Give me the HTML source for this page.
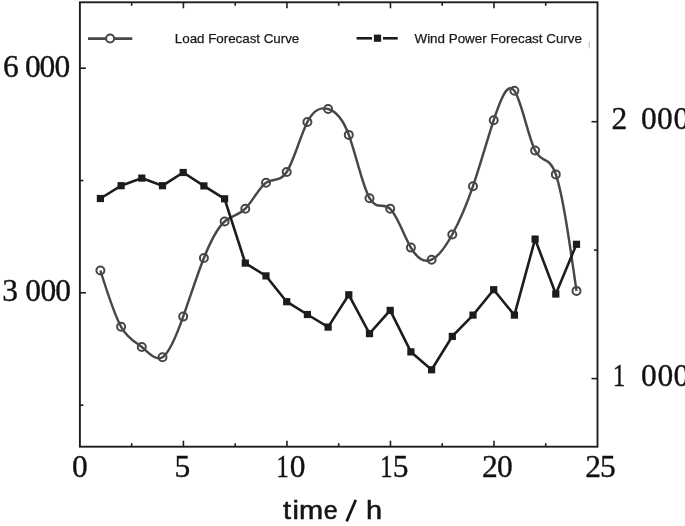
<!DOCTYPE html>
<html><head><meta charset="utf-8">
<style>
html,body{margin:0;padding:0;background:#fff;}
body{width:685px;height:526px;position:relative;overflow:hidden;}
svg{position:absolute;left:0;top:0;will-change:transform;filter:blur(0.35px);}
.s{font-family:"Liberation Serif",serif;fill:#111;stroke:#111;stroke-width:0.35px;}
.n{font-family:"Liberation Sans",sans-serif;fill:#1a1a1a;}
.lg{stroke:#1a1a1a;stroke-width:0.25px;}
</style></head><body>
<svg width="685" height="526" viewBox="0 0 685 526">
<rect x="79.9" y="2.3" width="517.6" height="444.4" fill="none" stroke="#1e1e1e" stroke-width="1.9"/>
<line x1="131.66" y1="446.7" x2="131.66" y2="443.2" stroke="#1e1e1e" stroke-width="1.6"/>
<line x1="131.66" y1="2.3" x2="131.66" y2="5.8" stroke="#1e1e1e" stroke-width="1.6"/>
<line x1="183.42" y1="446.7" x2="183.42" y2="440.7" stroke="#1e1e1e" stroke-width="1.6"/>
<line x1="183.42" y1="2.3" x2="183.42" y2="8.3" stroke="#1e1e1e" stroke-width="1.6"/>
<line x1="235.18" y1="446.7" x2="235.18" y2="443.2" stroke="#1e1e1e" stroke-width="1.6"/>
<line x1="235.18" y1="2.3" x2="235.18" y2="5.8" stroke="#1e1e1e" stroke-width="1.6"/>
<line x1="286.94" y1="446.7" x2="286.94" y2="440.7" stroke="#1e1e1e" stroke-width="1.6"/>
<line x1="286.94" y1="2.3" x2="286.94" y2="8.3" stroke="#1e1e1e" stroke-width="1.6"/>
<line x1="338.70" y1="446.7" x2="338.70" y2="443.2" stroke="#1e1e1e" stroke-width="1.6"/>
<line x1="338.70" y1="2.3" x2="338.70" y2="5.8" stroke="#1e1e1e" stroke-width="1.6"/>
<line x1="390.46" y1="446.7" x2="390.46" y2="440.7" stroke="#1e1e1e" stroke-width="1.6"/>
<line x1="390.46" y1="2.3" x2="390.46" y2="8.3" stroke="#1e1e1e" stroke-width="1.6"/>
<line x1="442.22" y1="446.7" x2="442.22" y2="443.2" stroke="#1e1e1e" stroke-width="1.6"/>
<line x1="442.22" y1="2.3" x2="442.22" y2="5.8" stroke="#1e1e1e" stroke-width="1.6"/>
<line x1="493.98" y1="446.7" x2="493.98" y2="440.7" stroke="#1e1e1e" stroke-width="1.6"/>
<line x1="493.98" y1="2.3" x2="493.98" y2="8.3" stroke="#1e1e1e" stroke-width="1.6"/>
<line x1="545.74" y1="446.7" x2="545.74" y2="443.2" stroke="#1e1e1e" stroke-width="1.6"/>
<line x1="545.74" y1="2.3" x2="545.74" y2="5.8" stroke="#1e1e1e" stroke-width="1.6"/>
<line x1="79.9" y1="68.2" x2="85.9" y2="68.2" stroke="#1e1e1e" stroke-width="1.6"/>
<line x1="79.9" y1="180.5" x2="83.4" y2="180.5" stroke="#1e1e1e" stroke-width="1.6"/>
<line x1="79.9" y1="292.8" x2="85.9" y2="292.8" stroke="#1e1e1e" stroke-width="1.6"/>
<line x1="79.9" y1="405.2" x2="83.4" y2="405.2" stroke="#1e1e1e" stroke-width="1.6"/>
<line x1="597.5" y1="121.7" x2="591.5" y2="121.7" stroke="#1e1e1e" stroke-width="1.6"/>
<line x1="597.5" y1="250.1" x2="594.0" y2="250.1" stroke="#1e1e1e" stroke-width="1.6"/>
<line x1="597.5" y1="378.6" x2="591.5" y2="378.6" stroke="#1e1e1e" stroke-width="1.6"/>
<path d="M100.40 270.50 C107.30 292.54 114.20 314.58 121.10 326.80 C128.00 339.02 134.90 341.42 141.80 347.00 C148.70 352.58 155.60 361.34 162.50 357.20 C169.40 353.06 176.30 336.03 183.20 316.60 C190.10 297.17 197.00 275.35 203.90 258.00 C210.80 240.65 217.70 227.76 224.60 221.50 C231.50 215.24 238.40 215.61 245.30 208.70 C252.20 201.79 259.10 187.60 266.00 182.80 C272.90 178.00 279.80 182.61 286.70 172.00 C293.60 161.39 300.50 135.58 307.40 122.00 C314.30 108.42 321.20 107.07 328.10 109.00 C335.00 110.93 341.90 116.13 348.80 134.90 C355.70 153.67 362.60 186.00 369.50 198.20 C376.40 210.40 383.30 202.48 390.20 208.80 C397.10 215.12 404.00 235.68 410.90 247.60 C417.80 259.52 424.70 262.82 431.60 259.70 C438.50 256.58 445.40 247.06 452.30 234.50 C459.20 221.94 466.10 206.34 473.00 186.20 C479.90 166.06 486.80 141.38 493.70 120.20 C500.60 99.02 507.50 81.34 514.40 90.80 C521.30 100.26 528.20 136.86 535.10 150.50 C542.00 164.14 548.90 154.83 555.80 174.40 C562.70 193.97 569.60 242.44 576.50 290.90" fill="none" stroke="#474747" stroke-width="2.45" stroke-linejoin="round"/>
<path d="M100.40 198.50 L121.10 185.70 L141.80 178.10 L162.50 185.70 L183.20 172.50 L203.90 185.90 L224.60 198.80 L245.30 263.10 L266.00 275.90 L286.70 301.70 L307.40 314.50 L328.10 327.10 L348.80 294.80 L369.50 333.60 L390.20 310.40 L410.90 351.90 L431.60 369.80 L452.30 336.40 L473.00 315.10 L493.70 289.70 L514.40 315.10 L535.10 239.10 L555.80 294.00 L576.50 244.30" fill="none" stroke="#1c1c1c" stroke-width="2.6" stroke-linejoin="miter"/>
<circle cx="100.40" cy="270.50" r="4" fill="none" stroke="#474747" stroke-width="2"/>
<circle cx="121.10" cy="326.80" r="4" fill="none" stroke="#474747" stroke-width="2"/>
<circle cx="141.80" cy="347.00" r="4" fill="none" stroke="#474747" stroke-width="2"/>
<circle cx="162.50" cy="357.20" r="4" fill="none" stroke="#474747" stroke-width="2"/>
<circle cx="183.20" cy="316.60" r="4" fill="none" stroke="#474747" stroke-width="2"/>
<circle cx="203.90" cy="258.00" r="4" fill="none" stroke="#474747" stroke-width="2"/>
<circle cx="224.60" cy="221.50" r="4" fill="none" stroke="#474747" stroke-width="2"/>
<circle cx="245.30" cy="208.70" r="4" fill="none" stroke="#474747" stroke-width="2"/>
<circle cx="266.00" cy="182.80" r="4" fill="none" stroke="#474747" stroke-width="2"/>
<circle cx="286.70" cy="172.00" r="4" fill="none" stroke="#474747" stroke-width="2"/>
<circle cx="307.40" cy="122.00" r="4" fill="none" stroke="#474747" stroke-width="2"/>
<circle cx="328.10" cy="109.00" r="4" fill="none" stroke="#474747" stroke-width="2"/>
<circle cx="348.80" cy="134.90" r="4" fill="none" stroke="#474747" stroke-width="2"/>
<circle cx="369.50" cy="198.20" r="4" fill="none" stroke="#474747" stroke-width="2"/>
<circle cx="390.20" cy="208.80" r="4" fill="none" stroke="#474747" stroke-width="2"/>
<circle cx="410.90" cy="247.60" r="4" fill="none" stroke="#474747" stroke-width="2"/>
<circle cx="431.60" cy="259.70" r="4" fill="none" stroke="#474747" stroke-width="2"/>
<circle cx="452.30" cy="234.50" r="4" fill="none" stroke="#474747" stroke-width="2"/>
<circle cx="473.00" cy="186.20" r="4" fill="none" stroke="#474747" stroke-width="2"/>
<circle cx="493.70" cy="120.20" r="4" fill="none" stroke="#474747" stroke-width="2"/>
<circle cx="514.40" cy="90.80" r="4" fill="none" stroke="#474747" stroke-width="2"/>
<circle cx="535.10" cy="150.50" r="4" fill="none" stroke="#474747" stroke-width="2"/>
<circle cx="555.80" cy="174.40" r="4" fill="none" stroke="#474747" stroke-width="2"/>
<circle cx="576.50" cy="290.90" r="4" fill="none" stroke="#474747" stroke-width="2"/>
<rect x="96.80" y="194.90" width="7.2" height="7.2" fill="#1c1c1c"/>
<rect x="117.50" y="182.10" width="7.2" height="7.2" fill="#1c1c1c"/>
<rect x="138.20" y="174.50" width="7.2" height="7.2" fill="#1c1c1c"/>
<rect x="158.90" y="182.10" width="7.2" height="7.2" fill="#1c1c1c"/>
<rect x="179.60" y="168.90" width="7.2" height="7.2" fill="#1c1c1c"/>
<rect x="200.30" y="182.30" width="7.2" height="7.2" fill="#1c1c1c"/>
<rect x="221.00" y="195.20" width="7.2" height="7.2" fill="#1c1c1c"/>
<rect x="241.70" y="259.50" width="7.2" height="7.2" fill="#1c1c1c"/>
<rect x="262.40" y="272.30" width="7.2" height="7.2" fill="#1c1c1c"/>
<rect x="283.10" y="298.10" width="7.2" height="7.2" fill="#1c1c1c"/>
<rect x="303.80" y="310.90" width="7.2" height="7.2" fill="#1c1c1c"/>
<rect x="324.50" y="323.50" width="7.2" height="7.2" fill="#1c1c1c"/>
<rect x="345.20" y="291.20" width="7.2" height="7.2" fill="#1c1c1c"/>
<rect x="365.90" y="330.00" width="7.2" height="7.2" fill="#1c1c1c"/>
<rect x="386.60" y="306.80" width="7.2" height="7.2" fill="#1c1c1c"/>
<rect x="407.30" y="348.30" width="7.2" height="7.2" fill="#1c1c1c"/>
<rect x="428.00" y="366.20" width="7.2" height="7.2" fill="#1c1c1c"/>
<rect x="448.70" y="332.80" width="7.2" height="7.2" fill="#1c1c1c"/>
<rect x="469.40" y="311.50" width="7.2" height="7.2" fill="#1c1c1c"/>
<rect x="490.10" y="286.10" width="7.2" height="7.2" fill="#1c1c1c"/>
<rect x="510.80" y="311.50" width="7.2" height="7.2" fill="#1c1c1c"/>
<rect x="531.50" y="235.50" width="7.2" height="7.2" fill="#1c1c1c"/>
<rect x="552.20" y="290.40" width="7.2" height="7.2" fill="#1c1c1c"/>
<rect x="572.90" y="240.70" width="7.2" height="7.2" fill="#1c1c1c"/>
<line x1="88" y1="38.6" x2="132.3" y2="38.6" stroke="#474747" stroke-width="2.6"/>
<circle cx="110.1" cy="38.5" r="4" fill="#fff" stroke="#474747" stroke-width="2"/>
<line x1="356.6" y1="38.3" x2="372" y2="38.3" stroke="#1c1c1c" stroke-width="2.6"/>
<line x1="383" y1="38.3" x2="397.7" y2="38.3" stroke="#1c1c1c" stroke-width="2.6"/>
<rect x="373.9" y="34.6" width="7.2" height="7.2" fill="#1c1c1c"/>
<g class="s" font-size="31.5">
<text x="3.1 25.1 39.6 54.4" y="77">6000</text>
<text x="2.3 25.2 40.6 55.3" y="301.4">3000</text>
<text x="611.5 640.9 657.1 673.4" y="129">2000</text>
<text transform="translate(619,385.8) scale(0.8,1)" text-anchor="middle">1</text>
<text x="640.9 657.6 673.4" y="385.8">000</text>
<text x="71.9" y="476.8">0</text>
<text x="174.6" y="476.8">5</text>
<text transform="translate(282.6,476.8) scale(0.8,1)" text-anchor="middle">1</text>
<text x="289.8" y="476.8">0</text>
<text transform="translate(386.2,476.8) scale(0.8,1)" text-anchor="middle">1</text>
<text x="392.8" y="476.8">5</text>
<text x="482 497.1" y="476.8">20</text>
<text x="585.3 600.1" y="476.8">25</text>
</g>
<g class="n">
<text x="174.8" y="42.7" class="lg" font-size="13.4" textLength="124.5" lengthAdjust="spacing">Load Forecast Curve</text>
<text x="414.5" y="42.7" class="lg" font-size="13.4">Wind Power Forecast Curve</text>
<g transform="translate(0,518.8) scale(1,0.88)">
<text x="283.1 292.5 299.1" y="0" font-size="29" style="fill:#151515;stroke:#151515;stroke-width:0.6px">tim</text>
<text transform="translate(324.6,0) scale(0.86,1)" x="-1" y="0" font-size="29" style="fill:#151515;stroke:#151515;stroke-width:0.6px">e</text>
<text x="365.9" y="0" font-size="29" style="fill:#151515;stroke:#151515;stroke-width:0.6px">h</text>
</g>
<line x1="589.4" y1="41.5" x2="589.4" y2="48.5" stroke="#c8c8c8" stroke-width="1.2"/>
<line x1="346.6" y1="521.4" x2="355.8" y2="499.9" stroke="#151515" stroke-width="2.7"/>
</g>
</svg>
</body></html>
